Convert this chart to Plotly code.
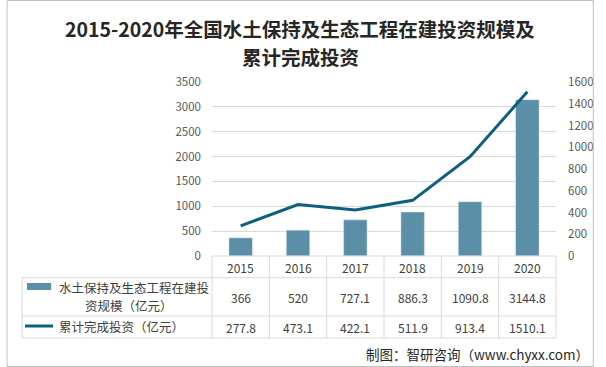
import plotly.graph_objects as go

years = ["2015", "2016", "2017", "2018", "2019", "2020"]
scale_vals = [366, 520, 727.1, 886.3, 1090.8, 3144.8]
done_vals = [277.8, 473.1, 422.1, 511.9, 913.4, 1510.1]
scale_labels = ["366", "520", "727.1", "886.3", "1090.8", "3144.8"]
done_labels = ["277.8", "473.1", "422.1", "511.9", "913.4", "1510.1"]
left_ticks = [0, 500, 1000, 1500, 2000, 2500, 3000, 3500]
right_ticks = [0, 200, 400, 600, 800, 1000, 1200, 1400, 1600]
series1_name = "水土保持及生态工程在建投资规模（亿元）"
series2_name = "累计完成投资（亿元）"
title_l1 = "2015-2020年全国水土保持及生态工程在建投资规模及"
title_l2 = "累计完成投资"
source = "制图：智研咨询（www.chyxx.com）"

W, H = 606, 367
L, R, T, B = 212, 567, 82, 256
PW, PH = R - L, B - T

def px(x):
    return (x - L) / PW

def py(y):
    return (B - y) / PH

BAR_C = "#5B8FA8"
LINE_C = "#0D5F80"
GRID_C = "#D9D9D9"
TBL_C = "#D9D9D9"
FONT = "Noto Sans CJK SC"

fig = go.Figure()
fig.add_trace(go.Bar(x=years, y=scale_vals, marker_color=BAR_C, width=0.41,
                     name=series1_name, yaxis="y"))
fig.add_trace(go.Scatter(x=years, y=done_vals, mode="lines",
                         line=dict(color=LINE_C, width=3), name=series2_name,
                         yaxis="y2"))

shapes = []
def line(x0, y0, x1, y1, color=TBL_C, width=1):
    shapes.append(dict(type="line", xref="paper", yref="paper",
                       x0=px(x0), y0=py(y0), x1=px(x1), y1=py(y1),
                       line=dict(color=color, width=width), layer="above"))

# table grid
col_edges = [L + i * PW / 6 for i in range(7)]
rows = [256, 277.7, 316, 338]
line(L, rows[0], R, rows[0])
for yy in rows[1:]:
    line(16, yy, R, yy)
for xx in col_edges:
    line(xx, rows[0], xx, rows[3])
line(16, rows[1], 16, rows[3])

# legend keys
shapes.append(dict(type="rect", xref="paper", yref="paper",
                   x0=px(21), x1=px(46), y0=py(290), y1=py(283),
                   fillcolor=BAR_C, line=dict(width=0)))
line(19, 326, 48, 326, color=LINE_C, width=3)

# outer border
shapes.append(dict(type="rect", xref="paper", yref="paper",
                   x0=px(0.5), x1=px(605.5), y0=py(0.5), y1=py(366.5),
                   line=dict(color="#BFBFBF", width=1)))

ann = []
def text(t, x, y, size=12, color="#404040", xanchor="center", xref="paper"):
    ann.append(dict(text=t, x=(px(x) if xref == "paper" else x), y=py(y),
                    xref=xref, yref="paper", showarrow=False,
                    xanchor=xanchor, yanchor="middle", align="center",
                    font=dict(size=size, color=color, family=FONT)))

for i, yr in enumerate(years):
    text(yr, i, 267, xref="x")
    text(scale_labels[i], i, 297.5, xref="x")
    text(done_labels[i], i, 327, xref="x")

text(series1_name[:12], 52, 287, size=12.5, xanchor="left")
text(series1_name[12:], 126, 305, size=12.5)
text(series2_name, 52, 326, size=12.5, xanchor="left")

text("<b>" + title_l1 + "</b>", 303, 28, size=19.5, color="#262626")
text("<b>" + title_l2 + "</b>", 303, 57, size=19.5, color="#262626")
text(source, 603, 354, size=13.5, color="#262626", xanchor="right")

fig.update_layout(
    width=W, height=H, autosize=False,
    margin=dict(l=L, r=W - R, t=T, b=H - B, pad=0),
    paper_bgcolor="white", plot_bgcolor="white",
    showlegend=False, bargap=0.59,
    font=dict(family=FONT),
    xaxis=dict(type="category", range=[-0.5, 5.5], showticklabels=False,
               showgrid=False, zeroline=False, showline=False, ticks=""),
    yaxis=dict(range=[0, 3500], tickvals=left_ticks, showgrid=True,
               gridcolor=GRID_C, gridwidth=1, zeroline=False, showline=False,
               ticks="", ticklabelstandoff=10,
               tickfont=dict(size=11.5, color="#595959", family=FONT)),
    yaxis2=dict(range=[0, 1600], tickvals=right_ticks, overlaying="y",
                side="right", showgrid=False, zeroline=False, showline=False,
                ticks="", ticklabelstandoff=11,
                tickfont=dict(size=11.5, color="#595959", family=FONT)),
    shapes=shapes, annotations=ann,
)

fig.write_html("out.html", config={"displayModeBar": False},
               post_script="document.body.style.margin='0px';document.body.style.overflow='hidden';")
